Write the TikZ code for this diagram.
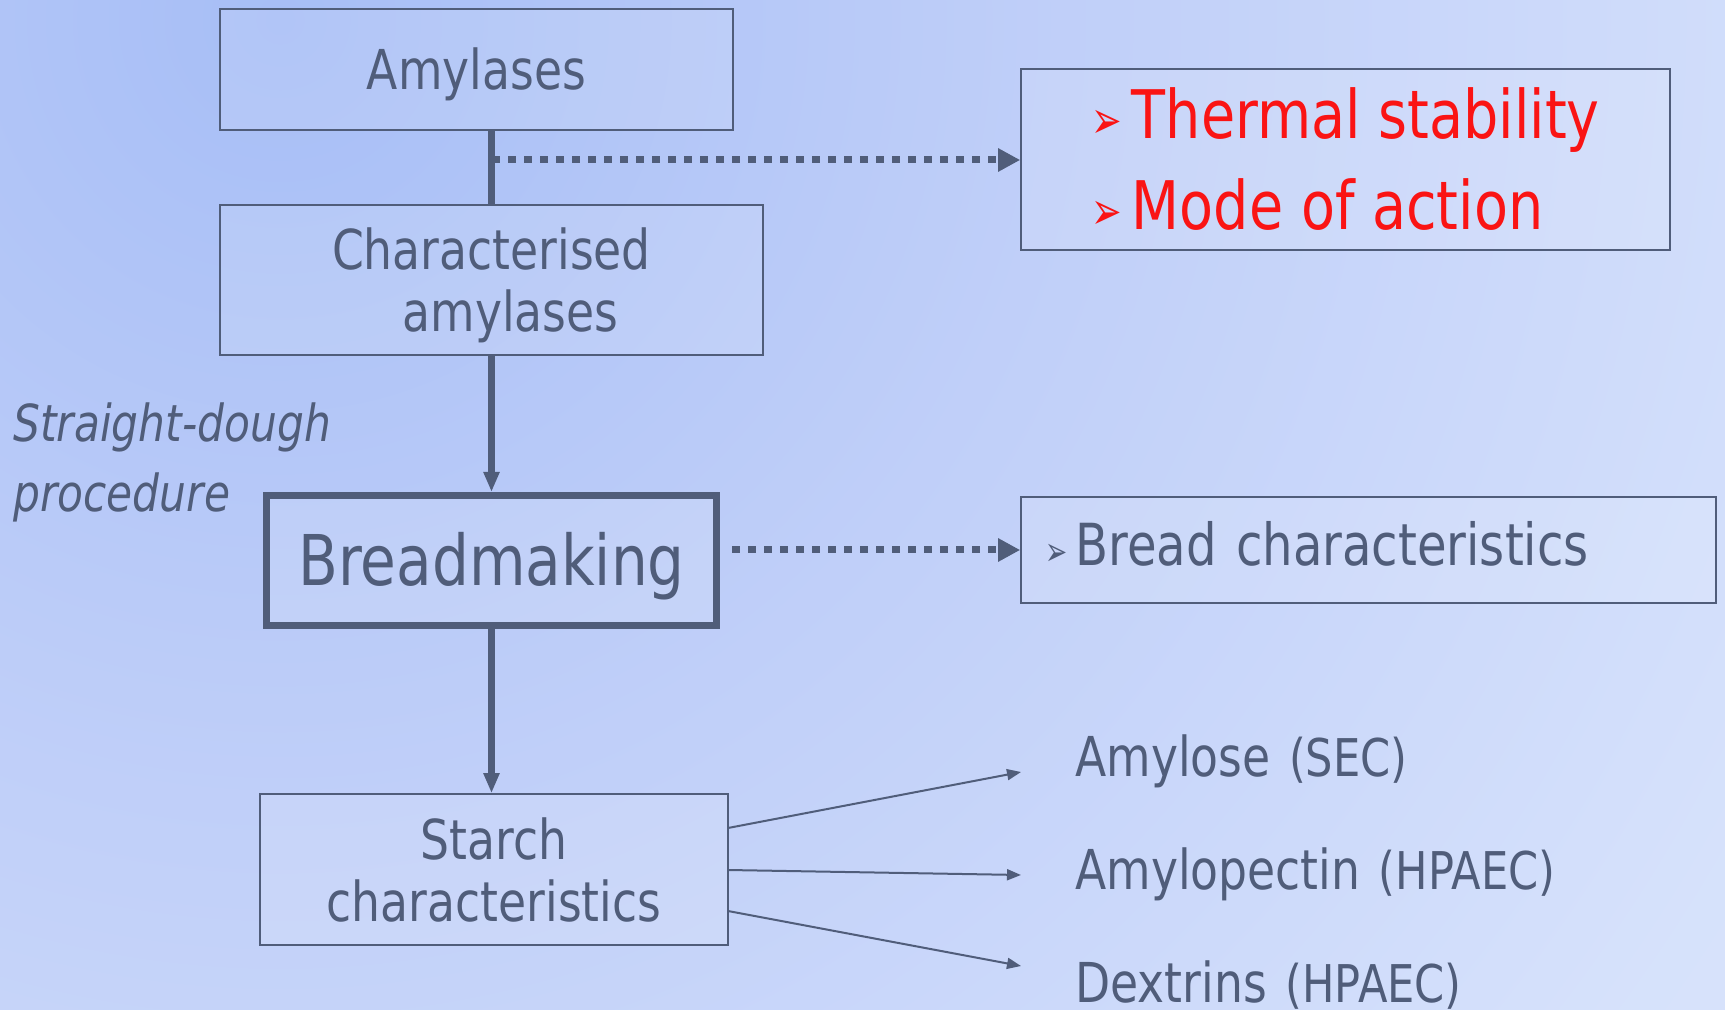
\documentclass[tikz,border=0pt]{standalone}
\usepackage{fontspec}
\setmainfont{DejaVu Sans}[FakeStretch=0.83]
\usetikzlibrary{arrows.meta}
\definecolor{slate}{RGB}{80,93,122}
\definecolor{myred}{RGB}{250,20,20}
\pgfdeclareradialshading{bgshade}{\pgfpointorigin}{rgb(0bp)=(0.655,0.745,0.965); rgb(10bp)=(0.75,0.81,0.975); rgb(22bp)=(0.84,0.885,0.985); rgb(50bp)=(0.925,0.948,0.995)}
\newcommand{\bul}{{\fontsize{22pt}{22pt}\selectfont\scalebox{1}[1.2]{➢}}\hspace{5pt}}
\newcommand{\sbul}{{\fontsize{16pt}{16pt}\selectfont\scalebox{1}[1.25]{➢}}\hspace{4pt}}
\tikzset{
  box/.style={draw=slate, line width=0.8pt, fill=white, fill opacity=0.12, text opacity=1, text=slate, inner sep=0pt, align=center},
  thickarrow/.style={draw=slate, line width=3.3pt, -{Triangle[length=10pt,width=7.5pt]}},
  plainline/.style={draw=slate, line width=3.3pt},
  dotarrow/.style={draw=slate, line width=3.5pt, dash pattern=on 4pt off 4pt, -{Triangle[length=11pt,width=11pt]}},
  thinarrow/.style={draw=slate, line width=1pt, -{Triangle[length=7pt,width=5.5pt]}},
  lbl/.style={text=slate, inner sep=0pt, anchor=base west},
}
\begin{document}
\begin{tikzpicture}[x=0.5pt,y=-0.5pt]
\useasboundingbox (0,0) rectangle (1725,1010);
\begin{scope}
\clip (0,0) rectangle (1725,1010);
\shade[shading=bgshade] (280,20) circle[radius=1900];
\end{scope}

% boxes
\node[box, minimum width=256.5pt, minimum height=60.5pt, text height=20pt, text depth=0pt, font=\fontsize{27.5pt}{31pt}\selectfont] (amy) at (476.5,69.5) {Amylases};
\node[box, minimum width=271.5pt, minimum height=75pt, font=\fontsize{27.5pt}{31pt}\selectfont] (char) at (491.5,280) {Characterised\\\hspace*{19pt}\smash{amylases}};
\node[box, line width=3.5pt, minimum width=225pt, minimum height=65pt, text height=25.5pt, text depth=0pt, font=\fontsize{35pt}{40pt}\selectfont] (bread) at (491.5,560.5) {Breadmaking};
\node[box, minimum width=234pt, minimum height=75.5pt, font=\fontsize{27.5pt}{31pt}\selectfont] (starch) at (494,869.5) {Starch\\characteristics};
\node[box, minimum width=324.5pt, minimum height=90.5pt, align=left, text=myred, font=\fontsize{33.5pt}{45.5pt}\selectfont] (therm) at (1345.5,159.5) {\bul Thermal stability\\\bul Mode of action};
\node[box, minimum height=53pt, inner xsep=12pt, text width=323.5pt, text height=21pt, text depth=5.5pt, align=left, font=\fontsize{29pt}{33pt}\selectfont] (bchar) at (1368.5,550) {\sbul Bread characteristics};

% side labels
\node[lbl, font=\itshape\fontsize{25.5pt}{30pt}\selectfont] (sd1) at (13,442) {Straight-dough};
\node[lbl, font=\itshape\fontsize{25.5pt}{30pt}\selectfont] (sd2) at (13,512) {procedure};

% starch results
\node[lbl, font=\fontsize{27.5pt}{31pt}\selectfont] (r1) at (1075,776) {Amylose\hspace{2pt} {\fontsize{26pt}{28pt}\selectfont(SEC)}};
\node[lbl, font=\fontsize{27.5pt}{31pt}\selectfont] (r2) at (1075,889) {Amylopectin\hspace{2pt} {\fontsize{26pt}{28pt}\selectfont(HPAEC)}};
\node[lbl, font=\fontsize{27.5pt}{31pt}\selectfont] (r3) at (1075,1002) {Dextrins\hspace{2pt} {\fontsize{26pt}{28pt}\selectfont(HPAEC)}};

% connectors
\draw[plainline] (amy.south -| char.north) -- (char.north);
\coordinate (j1) at (492,160);
\draw[dotarrow] (j1) -- (therm.west |- j1);
\draw[thickarrow] (char.south) -- (bread.north);
\draw[dotarrow, shorten <=6pt] (bread.east |- bchar.west) -- (bchar.west);
\draw[thickarrow] (bread.south) -- (bread.south |- starch.north);

\coordinate (s1) at (728,828);
\coordinate (s2) at (728,870);
\coordinate (s3) at (728,911);
\coordinate (t1) at (1021,772);
\coordinate (t2) at (1021,875);
\coordinate (t3) at (1021,966);
\draw[thinarrow] (s1) -- (t1);
\draw[thinarrow] (s2) -- (t2);
\draw[thinarrow] (s3) -- (t3);
\end{tikzpicture}
\end{document}
